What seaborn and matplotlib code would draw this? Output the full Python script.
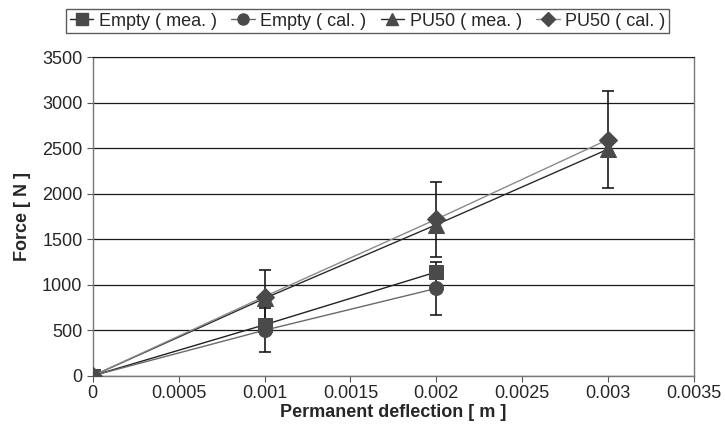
import numpy as np
import pandas as pd
import seaborn as sns
import matplotlib.pyplot as plt

# deflection [m]
x_empty = [0, 0.001, 0.002]
x_pu50 = [0, 0.001, 0.002, 0.003]

# force [N]
empty_mea = [0, 560, 1140]
empty_cal = [0, 500, 960]
empty_cal_err = [0, 240, 290]
pu50_mea = [0, 850, 1660, 2490]
pu50_cal = [0, 870, 1720, 2596]
pu50_cal_err = [0, 290, 415, 530]

labels = ['Empty ( mea. )', 'Empty ( cal. )', 'PU50 ( mea. )', 'PU50 ( cal. )']


def build_frame():
    parts = [
        pd.DataFrame({'x': x_empty, 'y': empty_mea, 'series': labels[0]}),
        pd.DataFrame({'x': x_empty, 'y': empty_cal, 'series': labels[1]}),
        pd.DataFrame({'x': x_pu50, 'y': pu50_mea, 'series': labels[2]}),
        pd.DataFrame({'x': x_pu50, 'y': pu50_cal, 'series': labels[3]}),
    ]
    return pd.concat(parts, ignore_index=True)


if __name__ == '__main__':
    sns.set_style('white')
    plt.rcParams['font.family'] = ['Liberation Sans', 'DejaVu Sans']

    df = build_frame()
    line_colors = {labels[0]: '#222222', labels[1]: '#6a6a6a',
                   labels[2]: '#2a2a2a', labels[3]: '#8a8a8a'}
    markers = {labels[0]: 's', labels[1]: 'o', labels[2]: '^', labels[3]: 'D'}
    sizes = {labels[0]: 10.5, labels[1]: 10, labels[2]: 11.5, labels[3]: 9}

    fig = plt.figure(figsize=(7.25, 4.41), dpi=100)
    ax = fig.add_axes([0.128, 0.148, 0.829, 0.722])

    # error bars on the calculated series
    ax.errorbar(x_empty, empty_cal, yerr=empty_cal_err, fmt='none',
                ecolor='#1a1a1a', elinewidth=1.2, capsize=4, capthick=1.2, zorder=2)
    ax.errorbar(x_pu50, pu50_cal, yerr=pu50_cal_err, fmt='none',
                ecolor='#1a1a1a', elinewidth=1.2, capsize=4, capthick=1.2, zorder=2)

    for name in labels:
        sub = df[df['series'] == name]
        sns.lineplot(data=sub, x='x', y='y', ax=ax, color=line_colors[name],
                     linewidth=1.0, marker=markers[name], markersize=sizes[name],
                     markerfacecolor='#4a4a4a', markeredgecolor='#4a4a4a',
                     label=name, zorder=3, legend=False)

    ax.set_xlim(0, 0.0035)
    ax.set_ylim(0, 3500)
    ax.set_xticks(np.arange(0, 0.0036, 0.0005))
    ax.set_xticklabels(['0', '0.0005', '0.001', '0.0015', '0.002', '0.0025', '0.003', '0.0035'])
    ax.set_yticks(np.arange(0, 3501, 500))
    ax.yaxis.grid(True, color='#1a1a1a', linewidth=0.9)
    ax.set_axisbelow(True)
    ax.tick_params(axis='both', labelsize=13, length=4, direction='out',
                   left=True, bottom=True, color='#555555')
    ax.tick_params(axis='x', pad=3)
    for side in ['left', 'bottom', 'right']:
        ax.spines[side].set_color('#777777')
        ax.spines[side].set_linewidth(1.0)
    ax.spines['top'].set_color('#1a1a1a')

    ax.set_xlabel('Permanent deflection [ m ]', fontsize=13, fontweight='bold', labelpad=1)
    ax.set_ylabel('Force [ N ]', fontsize=13, fontweight='bold', labelpad=8)

    handles = [plt.Line2D([], [], color=line_colors[n], marker=markers[n],
                          markersize=sizes[n] * 0.8, markerfacecolor='#4a4a4a',
                          markeredgecolor='#4a4a4a', linewidth=1.0) for n in labels]
    leg = fig.legend(handles, labels, loc='center', bbox_to_anchor=(0.507, 0.952),
                     ncol=4, fontsize=13, frameon=True, fancybox=False,
                     handlelength=1.3, handletextpad=0.3, columnspacing=0.8,
                     borderpad=0.2, borderaxespad=0)
    leg.get_frame().set_edgecolor('#333333')
    leg.get_frame().set_linewidth(1.0)

    fig.savefig('out.png', dpi=100)
    plt.close(fig)
